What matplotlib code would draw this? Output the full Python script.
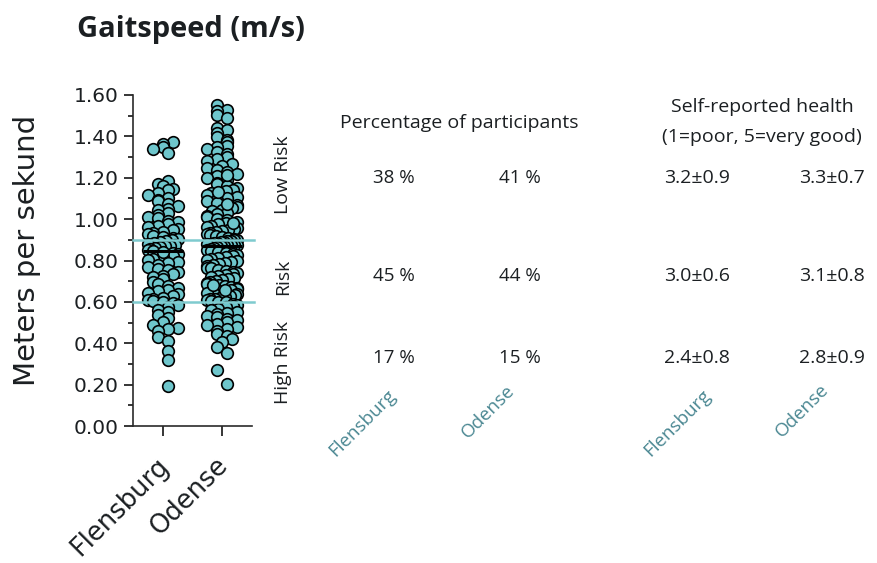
import numpy as np
import matplotlib.pyplot as plt
from matplotlib.transforms import ScaledTranslation

groups = ["Flensburg", "Odense"]

flensburg = [
    1.372, 1.365, 1.348, 1.339, 1.318,
    1.183, 1.171, 1.162, 1.148, 1.139, 1.127, 1.118, 1.103, 1.094, 1.087,
    1.072, 1.063, 1.051, 1.043, 1.032, 1.021, 1.012, 1.004, 0.993, 0.986,
    0.977, 0.968, 0.961, 0.953, 0.947, 0.938, 0.931, 0.926, 0.918, 0.913,
    0.907, 0.903,
    0.897, 0.893, 0.889, 0.884, 0.881, 0.876, 0.872, 0.868, 0.864, 0.861,
    0.857, 0.852, 0.846, 0.838, 0.831, 0.823, 0.816, 0.808, 0.801, 0.794,
    0.786, 0.778, 0.769, 0.761, 0.752, 0.744, 0.736, 0.727, 0.718, 0.709,
    0.698, 0.688, 0.679, 0.668, 0.659, 0.651, 0.643, 0.636, 0.628, 0.621,
    0.615, 0.609, 0.604, 0.601, 0.842,
    0.594, 0.583, 0.574, 0.563, 0.552, 0.538, 0.521, 0.503, 0.487, 0.474,
    0.468, 0.461, 0.432, 0.409, 0.364, 0.318, 0.191,
]

odense = [
    1.552, 1.528, 1.521, 1.505, 1.487, 1.441, 1.432, 1.418, 1.396, 1.383,
    1.371, 1.355, 1.347, 1.338, 1.326, 1.314, 1.302, 1.293, 1.281, 1.268,
    1.259, 1.247, 1.238, 1.226, 1.219, 1.207, 1.198, 1.189, 1.176, 1.168,
    1.161, 1.152, 1.143, 1.135, 1.127, 1.118, 1.109, 1.101, 1.094, 1.086,
    1.077, 1.069, 1.061, 1.053, 1.046, 1.038, 1.031, 1.024, 1.016, 1.009,
    1.002, 0.995, 0.988, 0.981, 0.975, 0.968, 0.962, 0.956, 0.951, 0.946,
    0.941, 0.936, 0.931, 0.926, 0.921, 0.917, 0.912, 0.908, 0.904, 0.901,
    1.213, 1.072, 0.983, 1.132,
    0.898, 0.896, 0.893, 0.891, 0.889, 0.886, 0.884, 0.882, 0.879, 0.877,
    0.876, 0.874, 0.873, 0.871, 0.869, 0.866, 0.862, 0.857, 0.853, 0.846,
    0.842, 0.837, 0.831, 0.826, 0.822, 0.815, 0.811, 0.806, 0.802, 0.797,
    0.791, 0.786, 0.781, 0.777, 0.771, 0.766, 0.762, 0.756, 0.751, 0.746,
    0.741, 0.737, 0.731, 0.726, 0.722, 0.716, 0.711, 0.707, 0.701, 0.696,
    0.692, 0.687, 0.681, 0.677, 0.672, 0.667, 0.661, 0.657, 0.652, 0.648,
    0.643, 0.638, 0.634, 0.629, 0.625, 0.621, 0.616, 0.612, 0.608, 0.603,
    0.601, 0.655, 0.683,
    0.597, 0.591, 0.584, 0.579, 0.573, 0.566, 0.561, 0.553, 0.547, 0.541,
    0.534, 0.527, 0.519, 0.512, 0.503, 0.494, 0.486, 0.477, 0.468, 0.459,
    0.447, 0.436, 0.421, 0.404, 0.383, 0.352, 0.272, 0.201,
]

cutoffs = [0.9, 0.6]
yticks = [0.0, 0.2, 0.4, 0.6, 0.8, 1.0, 1.2, 1.4, 1.6]

risk_labels = ["Low Risk", "Risk", "High Risk"]
pct_flensburg = ["38 %", "45 %", "17 %"]
pct_odense = ["41 %", "44 %", "15 %"]
health_flensburg = ["3.2\u00b10.9", "3.0\u00b10.6", "2.4\u00b10.8"]
health_odense = ["3.3\u00b10.7", "3.1\u00b10.8", "2.8\u00b10.9"]

W, H = 878, 563
DOT = "#6ec6cc"
TEAL = "#7fcbcf"
INK = "#1b1f22"
LABEL_TEAL = "#4a8792"
TFONT = "Open Sans"


def row_offsets(vals, ppx, ppy, step, max_dx, row_h):
    # points falling in the same thin row sit side by side,
    # every other row shifted by half a step (hex-like packing)
    vals = np.asarray(vals)
    rows = np.floor(vals * ppy / row_h).astype(int)
    offs = np.zeros(len(vals))
    for r in np.unique(rows):
        idx = np.where(rows == r)[0]
        idx = idx[np.argsort(vals[idx])]
        n = len(idx)
        st = step if n == 1 else min(step, 2 * max_dx / (n - 1))
        slots = (np.arange(n) - (n - 1) / 2) * st
        shift = st / 2 if r % 2 else -st / 2
        if n % 2 == 0:
            shift = 0.0 if r % 4 < 2 else (st / 2 if r % 2 else -st / 2)
        slots = np.clip(slots + shift, -max_dx, max_dx)
        if r % 3 == 1:
            slots = slots[::-1]
        offs[idx] = slots
    return offs / ppx


def fx(x):
    return x / W


def fy(y):
    return 1 - y / H


fig = plt.figure(figsize=(W / 100, H / 100), dpi=100)
ax = fig.add_axes([fx(133), fy(426), (252 - 133) / W, (426 - 95) / H])
ax.set_xlim(-0.5, 1.5)
ax.set_ylim(0, 1.6)

ppx = (252 - 133) / 2.0
ppy = (426 - 95) / 1.6

for i, vals in enumerate([flensburg, odense]):
    offs = row_offsets(vals, ppx, ppy, 10.0, 15.0, 5.5)
    ax.scatter(i + offs, vals, s=70, color=DOT, edgecolor="black",
               linewidth=1.2, zorder=3, clip_on=False)
    med = np.median(vals)
    ax.hlines(med, i - 0.34, i + 0.34, color="black", linewidth=2.2, zorder=5)

for c in cutoffs:
    ax.axhline(c, xmin=0, xmax=1.02, color=TEAL, linewidth=1.8, zorder=4, clip_on=False)

for s in ["top", "right"]:
    ax.spines[s].set_visible(False)
for s in ["left", "bottom"]:
    ax.spines[s].set_color("#2a2a2a")
    ax.spines[s].set_linewidth(1.2)

ax.set_yticks(yticks)
ax.set_yticklabels([f"{t:.2f}" for t in yticks], family="DejaVu Sans",
                   fontsize=14.5, color=INK)
ax.set_yticks(np.arange(0.1, 1.6, 0.2), minor=True)
ax.tick_params(axis="y", which="major", length=6.5, width=1.1, pad=4)
ax.tick_params(axis="y", which="minor", length=3.5, width=1.1)
ax.set_xticks([0, 1])
ax.set_xticklabels(groups, rotation=45, ha="right", va="top",
                   rotation_mode="anchor", family="DejaVu Sans",
                   fontsize=18.5, color=INK)
ax.tick_params(axis="x", length=7, width=1.1, pad=12)
for lab in ax.get_xticklabels():
    lab.set_transform(lab.get_transform() + ScaledTranslation(-0.07, 0, fig.dpi_scale_trans))

fig.text(fx(27), fy(250), "Meters per sekund", rotation=90, ha="center",
         va="center", family="DejaVu Sans", fontsize=21, color=INK)
fig.text(fx(191), fy(30), "Gaitspeed (m/s)", ha="center", va="center",
         family=TFONT, fontweight="bold", fontsize=21, color=INK)

# risk group labels
row_y = [178, 276, 358]
label_y = [175, 277, 363]
for lab, y in zip(risk_labels, label_y):
    fig.text(fx(283), fy(y), lab, rotation=90, ha="center", va="center",
             family=TFONT, fontsize=14, color=INK)

fig.text(fx(459), fy(123), "Percentage of participants", ha="center",
         va="center", family=TFONT, fontsize=14, color=INK)
fig.text(fx(762), fy(107), "Self-reported health", ha="center",
         va="center", family=TFONT, fontsize=14, color=INK)
fig.text(fx(762), fy(137), "(1=poor, 5=very good)", ha="center",
         va="center", family=TFONT, fontsize=14, color=INK)

for y, a, b in zip(row_y, pct_flensburg, pct_odense):
    fig.text(fx(394), fy(y), a, ha="center", va="center", family=TFONT,
             fontsize=13.5, color=INK)
    fig.text(fx(520), fy(y), b, ha="center", va="center", family=TFONT,
             fontsize=13.5, color=INK)

for y, a, b in zip(row_y, health_flensburg, health_odense):
    fig.text(fx(697), fy(y), a, ha="center", va="center", family=TFONT,
             fontsize=14, color=INK)
    fig.text(fx(832), fy(y), b, ha="center", va="center", family=TFONT,
             fontsize=14, color=INK)

for x, y, g in [(362, 423, groups[0]), (488, 412, groups[1]),
                (677, 423, groups[0]), (802, 411, groups[1])]:
    fig.text(fx(x), fy(y), g, rotation=45, ha="center", va="center",
             rotation_mode="anchor", family=TFONT, fontsize=13.5,
             color=LABEL_TEAL)

fig.savefig("out.png", dpi=100)
